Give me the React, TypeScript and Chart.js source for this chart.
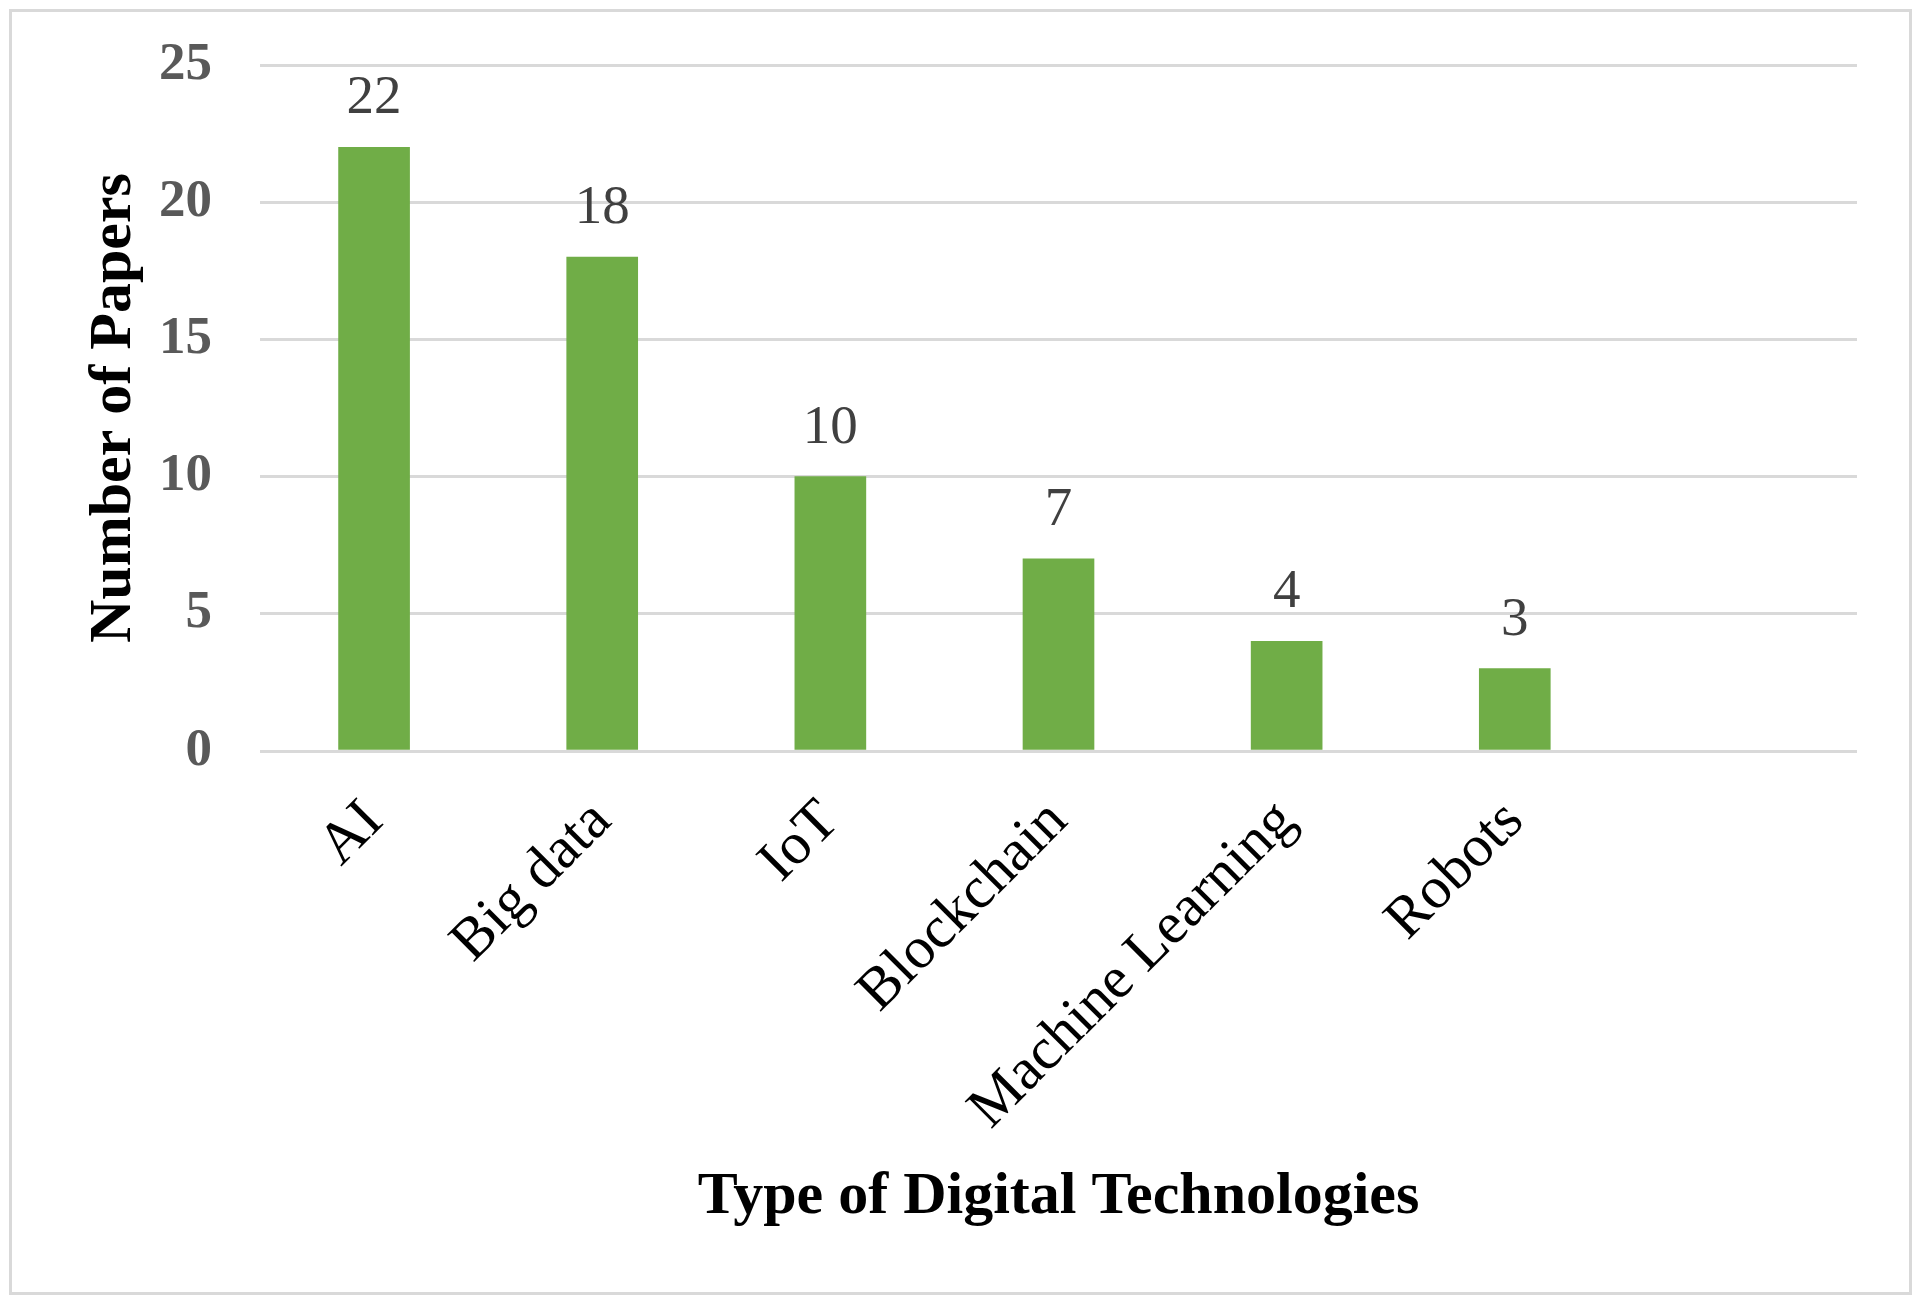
import { useEffect, useRef } from "react"
import { Chart, registerables } from "chart.js"

Chart.register(...registerables)

// categories (the 7th slot is empty in the original chart)
const categories = ["AI", "Big data", "IoT", "Blockchain", "Machine Learning", "Robots", ""]
const paperCounts = [22, 18, 10, 7, 4, 3, null]
const yTicks = [0, 5, 10, 15, 20, 25]

const SERIF = "'Liberation Serif', 'Times New Roman', serif"

// draws the value above each bar
const valueLabels = {
  id: "valueLabels",
  afterDatasetsDraw(chart: Chart) {
    const ctx = chart.ctx
    const meta = chart.getDatasetMeta(0)
    ctx.save()
    ctx.font = `55px ${SERIF}`
    ctx.fillStyle = "#404040"
    ctx.textAlign = "center"
    ctx.textBaseline = "alphabetic"
    meta.data.forEach((bar: any, i: number) => {
      const v = paperCounts[i]
      if (v == null) return
      ctx.fillText(String(v), bar.x, bar.y - 34)
    })
    ctx.restore()
  },
}

export default function App() {
  const chartRef = useRef<HTMLCanvasElement>(null)
  const chartInstance = useRef<Chart | null>(null)

  useEffect(() => {
    if (!chartRef.current) return
    if (chartInstance.current) chartInstance.current.destroy()

    const ctx = chartRef.current.getContext("2d")
    if (!ctx) return

    chartInstance.current = new Chart(ctx, {
      type: "bar",
      data: {
        labels: categories,
        datasets: [
          {
            data: paperCounts,
            backgroundColor: "#70AD47",
            barThickness: 71,
          },
        ],
      },
      plugins: [valueLabels],
      options: {
        responsive: false,
        animation: false,
        layout: { padding: { left: 20, top: 65, right: 66, bottom: 40 } },
        plugins: {
          legend: { display: false },
          tooltip: { enabled: false },
        },
        scales: {
          x: {
            grid: { display: false },
            border: { display: false },
            afterFit: (scale) => {
              scale.height = 1264 - 751
            },
            ticks: {
              autoSkip: false,
              minRotation: 45,
              maxRotation: 45,
              padding: 28,
              color: "#000000",
              font: { family: SERIF, size: 59 },
            },
            title: {
              display: true,
              text: "Type of Digital Technologies",
              color: "#000000",
              padding: { top: 0, bottom: 31 },
              font: { family: SERIF, size: 60, weight: "bold" },
            },
          },
          y: {
            min: 0,
            max: 25,
            afterFit: (scale) => {
              scale.width = 240
              // tick padding would otherwise push the plot area down
              scale.paddingTop = 0
              scale.paddingBottom = 0
            },
            afterBuildTicks: (scale) => {
              scale.ticks = yTicks.map((v) => ({ value: v }))
            },
            grid: { color: "#d9d9d9", lineWidth: 3, drawTicks: false },
            border: { display: false },
            ticks: {
              padding: 48,
              color: "#595959",
              font: { family: SERIF, size: 53, weight: "bold" },
            },
            title: {
              display: true,
              text: "Number of Papers",
              color: "#000000",
              padding: { top: 58, bottom: 0 },
              font: { family: SERIF, size: 60, weight: "bold" },
            },
          },
        },
      },
    })

    return () => {
      if (chartInstance.current) {
        chartInstance.current.destroy()
        chartInstance.current = null
      }
    }
  }, [])

  return (
    <div style={{ position: "fixed", left: 0, top: 0, width: 1923, height: 1304, background: "#ffffff" }}>
      <div
        style={{
          position: "absolute",
          left: 9,
          top: 9,
          width: 1903,
          height: 1286,
          border: "3px solid #d9d9d9",
          boxSizing: "border-box",
        }}
      />
      <canvas
        ref={chartRef}
        width={1923}
        height={1304}
        style={{ position: "absolute", left: 0, top: 0, width: 1923, height: 1304 }}
      />
    </div>
  )
}
